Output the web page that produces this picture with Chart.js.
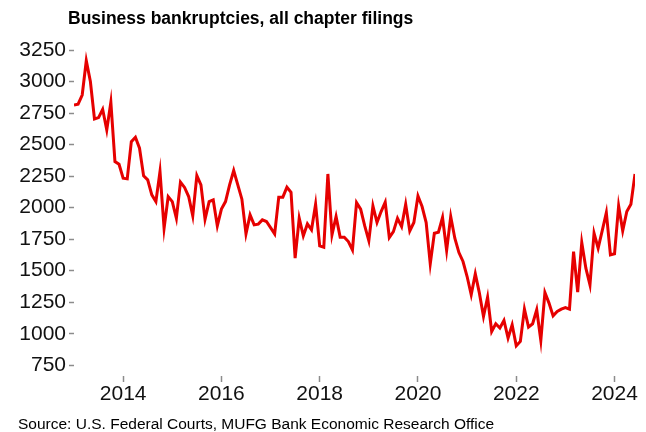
<!DOCTYPE html>
<html>
<head>
<meta charset="utf-8">
<script src="https://cdn.jsdelivr.net/npm/chart.js@4"></script>
<style>
  html, body { margin: 0; padding: 0; background: #fff; }
  #wrap { position: relative; width: 646px; height: 432px; overflow: hidden; }
  canvas { position: absolute; left: 0; top: 0; }
  #title { position: absolute; left: 68px; top: 8px; font: bold 17.5px "Liberation Sans", Arial, sans-serif; color: #000; white-space: nowrap; }
  #source { position: absolute; left: 18px; top: 415px; font: 15.5px "Liberation Sans", Arial, sans-serif; color: #000; white-space: nowrap; }
</style>
</head>
<body>
<div id="wrap">
  <canvas id="chart" width="646" height="432"></canvas>
  <div id="title">Business bankruptcies, all chapter filings</div>
  <div id="source">Source: U.S. Federal Courts, MUFG Bank Economic Research Office</div>
</div>
<script>
'use strict';
// MONTHLY BUSINESS BANKRUPTCY FILINGS, JAN 2013 - JUN 2024
const startYear = 2013;
const filings2013 = [2814, 2820, 2893, 3165, 3000, 2703, 2714, 2780, 2616, 2836, 2365, 2344];
const filings2014 = [2233, 2228, 2523, 2558, 2471, 2252, 2220, 2101, 2048, 2286, 1837, 2088];
const filings2015 = [2048, 1916, 2203, 2160, 2088, 1935, 2254, 2180, 1908, 2048, 2061, 1855];
const filings2016 = [1988, 2048, 2180, 2294, 2180, 2067, 1792, 1943, 1863, 1869, 1903, 1890];
const filings2017 = [1842, 1792, 2083, 2083, 2162, 2122, 1599, 1916, 1776, 1871, 1824, 2027];
const filings2018 = [1697, 1686, 2267, 1784, 1929, 1766, 1766, 1731, 1665, 2040, 1988, 1855];
const filings2019 = [1737, 2014, 1882, 1969, 2043, 1763, 1810, 1916, 1850, 2026, 1815, 1882];
const filings2020 = [2093, 2009, 1882, 1554, 1797, 1805, 1922, 1660, 1929, 1758, 1644, 1573];
const filings2021 = [1454, 1309, 1475, 1322, 1137, 1290, 1018, 1079, 1045, 1105, 966, 1071];
const filings2022 = [904, 939, 1195, 1053, 1079, 1190, 947, 1327, 1243, 1142, 1176, 1195];
const filings2023 = [1208, 1195, 1652, 1330, 1723, 1520, 1388, 1797, 1679, 1818, 1961, 1626];
const filings2024 = [1634, 2014, 1816, 1969, 2027, 2267];

// AXIS TICKS
const yTicks = [750, 1000, 1250, 1500, 1750, 2000, 2250, 2500, 2750, 3000, 3250];
const xTicks = [2014, 2016, 2018, 2020, 2022, 2024];

const filings = [].concat(
  filings2013, filings2014, filings2015, filings2016, filings2017, filings2018,
  filings2019, filings2020, filings2021, filings2022, filings2023, filings2024
);
// X VALUE = FRACTIONAL YEAR OF EACH MONTH
const points = filings.map((v, i) => ({ x: startYear + i / 12, y: v }));

const fontFamily = '"Liberation Sans", Arial, sans-serif';

const config = {
  type: 'line',
  data: {
    datasets: [
      {
        label: 'Business bankruptcies',
        data: points,
        borderColor: '#e60000',
        borderWidth: 3,
        pointRadius: 0,
        tension: 0,
        fill: false,
      },
    ],
  },
  options: {
    responsive: false,
    animation: false,
    layout: { padding: { left: 0, right: 11, top: 50, bottom: 0 } },
    plugins: { legend: { display: false }, tooltip: { enabled: false }, title: { display: false } },
    scales: {
      x: {
        type: 'linear',
        min: startYear,
        max: startYear + (filings.length - 1) / 12,
        border: { display: false },
        grid: { drawOnChartArea: false, drawTicks: true, tickLength: 6, tickColor: '#8c8c8c', tickWidth: 1.5 },
        afterBuildTicks: (scale) => {
          scale.ticks = xTicks.map((v) => ({ value: v }));
        },
        afterFit: (scale) => {
          scale.height = 56;
        },
        ticks: {
          autoSkip: false,
          maxRotation: 0,
          padding: 2,
          color: '#111',
          font: { family: fontFamily, size: 21, lineHeight: 1 },
          callback: (v) => String(v),
        },
      },
      y: {
        min: 665,
        max: 3250,
        border: { display: false },
        grid: { drawOnChartArea: false, drawTicks: true, tickLength: 5, tickColor: '#8c8c8c', tickWidth: 1.5 },
        afterBuildTicks: (scale) => {
          scale.ticks = yTicks.map((v) => ({ value: v }));
        },
        afterFit: (scale) => {
          scale.width = 74;
        },
        ticks: {
          padding: 3,
          color: '#111',
          font: { family: fontFamily, size: 21, lineHeight: 1 },
          callback: (v) => String(v),
        },
      },
    },
  },
};

const bankruptcyChart = new Chart(document.querySelector('#chart'), config);
</script>
</body>
</html>
